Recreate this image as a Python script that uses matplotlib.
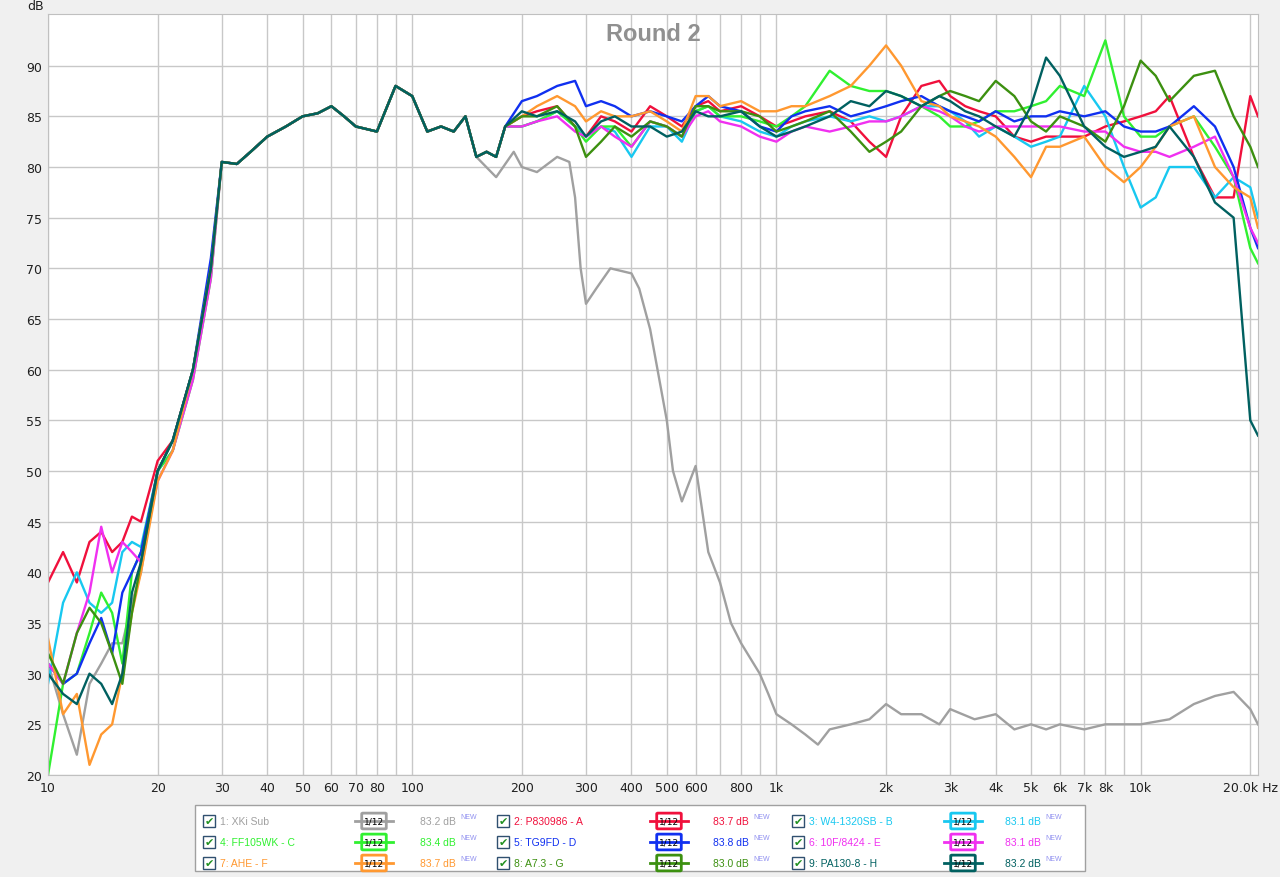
import matplotlib.pyplot as plt
from matplotlib.patches import FancyBboxPatch, Rectangle
from matplotlib.ticker import FixedLocator, NullFormatter

# shared part of the driver curves, 30-180 Hz
f_mid_lo = [30, 33, 36, 40, 45, 50, 55, 60, 65, 70, 80, 90, 100, 110, 120, 130, 140, 150, 160, 170, 180]
db_mid_lo = [80.5, 80.3, 81.5, 83, 84, 85, 85.3, 86, 85, 84, 83.5, 88, 87, 83.5, 84, 83.5, 85, 81, 81.5, 81, 84]

f_low = [10, 11, 12, 13, 14, 15, 16, 17, 18, 20, 22, 25, 28]
f_high = [200, 220, 250, 280, 300, 330, 360, 400, 450, 500, 550, 600, 650, 700, 800, 900, 1000, 1100,
          1200, 1400, 1600, 1800, 2000, 2200, 2500, 2800, 3000, 3300, 3600, 4000, 4500, 5000, 5500, 6000,
          7000, 8000, 9000, 10000, 11000, 12000, 14000, 16000, 18000, 20000, 21000]

low = {
    "A": [39, 42, 39, 43, 44, 42, 43, 45.5, 45, 51, 53, 60, 70],
    "B": [29, 37, 40, 37, 36, 37, 42, 43, 42.5, 50, 52, 60, 70],
    "C": [20, 29, 30, 34, 38, 36, 31, 40, 42, 50, 52, 59, 69],
    "D": [31, 29, 30, 33, 35.5, 32, 38, 40, 42, 50, 53, 60, 71],
    "E": [31, 29, 34, 38, 44.5, 40, 43, 42, 41, 49, 52, 59, 69],
    "F": [33.5, 26, 28, 21, 24, 25, 30, 36, 40, 49, 52, 60, 70],
    "G": [32, 29, 34, 36.5, 35, 32, 29, 36, 41, 50, 53, 60, 70],
    "H": [30, 28, 27, 30, 29, 27, 30, 38, 41, 50, 53, 60, 70],
}
high = {
    "A": [85, 85.5, 86, 84, 83, 85, 84.5, 83.5, 86, 85, 84, 86, 86.5, 85.5, 86, 85, 84, 84.5, 85, 85.5, 84.5,
          82.5, 81, 85, 88, 88.5, 87, 86, 85.5, 85, 83, 82.5, 83, 83, 83, 84, 84.5, 85, 85.5, 87, 81, 77, 77, 87, 85],
    "B": [84, 84.5, 85.5, 84, 83, 84, 83.5, 81, 84, 84, 82.5, 85.5, 86, 85, 84.5, 83.5, 83, 84, 84.5, 85,
          84.5, 85, 84.5, 85, 86, 86, 85.5, 84.5, 83, 84, 83, 82, 82.5, 83, 88, 85, 80, 76, 77, 80, 80, 77, 79, 78, 75],
    "C": [84, 84.5, 85.5, 84, 82.5, 84, 84, 82, 84.5, 84, 83, 85.5, 86, 85, 85, 84.5, 84, 85, 86, 89.5, 88,
          87.5, 87.5, 87, 86, 85, 84, 84, 84.5, 85.5, 85.5, 86, 86.5, 88, 87, 92.5, 85, 83, 83, 84, 85, 82, 79, 72, 70.5],
    "D": [86.5, 87, 88, 88.5, 86, 86.5, 86, 85, 85.5, 85, 84.5, 86, 87, 86, 85.5, 84, 83.5, 85, 85.5, 86, 85,
          85.5, 86, 86.5, 87, 86, 85.5, 85, 84.5, 85.5, 84.5, 85, 85, 85.5, 85, 85.5, 84, 83.5, 83.5, 84, 86, 84, 80, 74, 72],
    "E": [84, 84.5, 85, 83.5, 83, 84, 83, 82, 84.5, 84, 83, 85, 85.5, 84.5, 84, 83, 82.5, 83.5, 84, 83.5, 84,
          84.5, 84.5, 85, 86, 85.5, 85, 84, 83.5, 84, 84, 84, 84, 84, 83.5, 83.5, 82, 81.5, 81.5, 81, 82, 83, 79, 74, 72.5],
    "F": [85, 86, 87, 86, 84.5, 85.5, 85, 85, 85.5, 84.5, 83.5, 87, 87, 86, 86.5, 85.5, 85.5, 86, 86, 87, 88,
          90, 92, 90, 86.5, 86, 85, 84.5, 84, 83, 81, 79, 82, 82, 83, 80, 78.5, 80, 82, 84, 85, 80, 78, 77, 74],
    "G": [85, 85, 86, 84, 81, 82.5, 84, 83, 84.5, 84, 83, 86, 86, 85.5, 85.5, 85, 83.5, 84, 84.5, 85.5, 83.5,
          81.5, 82.5, 83.5, 86, 87, 87.5, 87, 86.5, 88.5, 87, 84.5, 83.5, 85, 84, 82.5, 86, 90.5, 89, 86.5, 89, 89.5, 85, 82, 80],
    "H": [85.5, 85, 85.5, 84.5, 83, 84.5, 85, 84, 84, 83, 83.5, 85.5, 85, 85, 85.5, 84, 83, 83.5, 84, 85, 86.5,
          86, 87.5, 87, 86, 87, 86.5, 85.5, 85, 84, 83, 86, 90.8, 89, 84, 82, 81, 81.5, 82, 84, 81, 76.5, 75, 55, 53.5],
}

sub_f = [10, 11, 12, 13, 14, 15, 16, 17, 18, 20, 22, 25, 28] + f_mid_lo[:-3] + [
    170, 190, 200, 220, 250, 270, 280, 290, 300, 320, 350, 400, 420, 450, 500, 520, 550, 600, 650, 700, 750,
    800, 900, 950, 1000, 1100, 1200, 1300, 1400, 1600, 1800, 2000, 2200, 2500, 2800, 3000, 3500, 4000,
    4500, 5000, 5500, 6000, 7000, 8000, 10000, 12000, 14000, 16000, 18000, 20000, 21000]
sub_db = [31, 26, 22, 29, 31, 33, 33, 37, 40, 50, 53, 60, 70] + db_mid_lo[:-3] + [
    79, 81.5, 80, 79.5, 81, 80.5, 77, 70, 66.5, 68, 70, 69.5, 68, 64, 55, 50, 47, 50.5, 42, 39, 35,
    33, 30, 28, 26, 25, 24, 23, 24.5, 25, 25.5, 27, 26, 26, 25, 26.5, 25.5, 26,
    24.5, 25, 24.5, 25, 24.5, 25, 25, 25.5, 27, 27.8, 28.2, 26.5, 25]

names = ["1: XKi Sub", "2: P830986 - A", "3: W4-1320SB - B", "4: FF105WK - C", "5: TG9FD - D",
         "6: 10F/8424 - E", "7: AHE - F", "8: A7.3 - G", "9: PA130-8 - H"]
keys = [None, "A", "B", "C", "D", "E", "F", "G", "H"]
colors = ["#a0a0a0", "#f0103c", "#18c8f0", "#30f030", "#1030f0", "#f030f0", "#ff9830", "#3c9010", "#006060"]
levels = ["83.2", "83.7", "83.1", "83.4", "83.8", "83.1", "83.7", "83.0", "83.2"]

fig = plt.figure(figsize=(12.8, 8.78), dpi=100, facecolor="#f0f0f0")
ax = fig.add_axes([48 / 1280, 1 - 776 / 878, 1210 / 1280, 761 / 878])
ax.set_facecolor("white")

# draw order: sub first, then drivers
ax.plot(sub_f, sub_db, color=colors[0], lw=1.7)
for k, c in zip(keys[1:], colors[1:]):
    fx = f_low + f_mid_lo + f_high
    dy = low[k] + db_mid_lo + high[k]
    ax.plot(fx, dy, color=c, lw=1.7)

ax.set_xscale("log")
ax.set_xlim(10, 21000)
ax.set_ylim(20, 95.1)
grid_f = [10, 20, 30, 40, 50, 60, 70, 80, 90, 100, 200, 300, 400, 500, 600, 700, 800, 900,
          1000, 2000, 3000, 4000, 5000, 6000, 7000, 8000, 9000, 10000, 20000]
lab_f = [10, 20, 30, 40, 50, 60, 70, 80, 100, 200, 300, 400, 500, 600, 800,
         1000, 2000, 3000, 4000, 5000, 6000, 7000, 8000, 10000, 20000]
lab_t = ["10", "20", "30", "40", "50", "60", "70", "80", "100", "200", "300", "400", "500", "600", "800",
         "1k", "2k", "3k", "4k", "5k", "6k", "7k", "8k", "10k", "20.0k Hz"]
ax.xaxis.set_minor_locator(FixedLocator(grid_f))
ax.xaxis.set_minor_formatter(NullFormatter())
ax.set_xticks(lab_f)
ax.set_xticklabels(lab_t)
ax.set_yticks(range(20, 95, 5))
ax.grid(True, which="both", color="#c8c8c8", lw=1)
ax.set_axisbelow(True)
ax.tick_params(which="both", length=0, labelsize=9, colors="#202020", pad=4)
for s in ax.spines.values():
    s.set_color("#c0c0c0")
ax.text(0.5, 0.99, "Round 2", transform=ax.transAxes, ha="center", va="top",
        fontsize=17, fontweight="bold", color="#909090", family="Liberation Sans")
fig.text(27 / 1280, 1 - 6 / 878, "dB", fontsize=9, va="center", color="#202020")

# legend panel
fig.patches.append(Rectangle((195 / 1280, 1 - 872 / 878), 890 / 1280, 66 / 878,
                             transform=fig.transFigure, fc="white", ec="#a0a0a0", lw=1))
cols = [(203, 355, 420), (497, 650, 713), (792, 944, 1005)]
rows = [822, 843, 864]
for i, (name, c, lv) in enumerate(zip(names, colors, levels)):
    r, cl = divmod(i, 3)
    yy = 1 - rows[r] / 878
    cx, bx, vx = cols[cl]
    fig.patches.append(Rectangle((cx / 1280, yy - 6 / 878), 12 / 1280, 12 / 878,
                                 transform=fig.transFigure, fc="white", ec="#305070", lw=1))
    fig.text((cx + 6) / 1280, yy, "\u2714", fontsize=8, color="#209020", ha="center", va="center")
    fig.text((cx + 17) / 1280, yy, name, fontsize=7.5, color=c, va="center", family="Liberation Sans")
    fig.lines.append(plt.Line2D([bx / 1280, (bx + 38) / 1280], [yy, yy], transform=fig.transFigure,
                                color=c, lw=2))
    fig.patches.append(FancyBboxPatch(((bx + 8) / 1280, yy - 7 / 878), 22 / 1280, 14 / 878,
                                      boxstyle="round,pad=0.001", transform=fig.transFigure,
                                      fc="white", ec=c, lw=2))
    fig.text((bx + 19) / 1280, yy, "1/12", fontsize=6.5, color="black", ha="center", va="center")
    fig.text(vx / 1280, yy, lv + " dB", fontsize=7.5, color=c, va="center", family="Liberation Sans")
    fig.text((vx + 40) / 1280, yy + 4 / 878, "NEW", fontsize=5, color="#9090f0", va="center",
             family="Liberation Sans")

fig.savefig("out.png", dpi=100, facecolor=fig.get_facecolor())
